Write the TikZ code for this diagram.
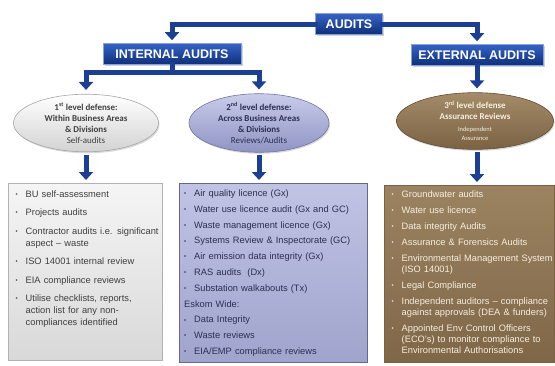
\documentclass[tikz,border=0pt]{standalone}
\usepackage{fontspec}
\setmainfont{Liberation Sans}
\newfontfamily\calfont{Carlito}
\usepackage{tikz}
\usetikzlibrary{positioning,shadows,arrows.meta,shapes.geometric}

\definecolor{audblue}{HTML}{1B3F92}
\definecolor{headtop}{HTML}{3563C4}
\definecolor{headbot}{HTML}{0E2E7A}
\definecolor{lavtop}{HTML}{C9CCEA}
\definecolor{lavbot}{HTML}{8F94C4}
\definecolor{browntop}{HTML}{A48C6A}
\definecolor{brownbot}{HTML}{7A6243}
\definecolor{graytext}{HTML}{3F3F3F}
\definecolor{lavtext}{HTML}{2C2F52}
\definecolor{browntext}{HTML}{F6EEDF}

% one bullet line of a list box
\newcommand{\bitem}[1]{\par\hangindent=10pt\hangafter=1\noindent
  \makebox[10pt][l]{\raisebox{0.8pt}{\fontsize{6}{6}\selectfont\textbullet}}#1\par}

\begin{document}
\begin{tikzpicture}[x=1pt,y=-1pt,
    head/.style={draw=headtop!60!white, line width=0.6pt, top color=headtop, bottom color=headbot,
      text=white, font=\fontsize{12.5}{14}\selectfont\bfseries, minimum height=21pt, inner sep=0pt,
      drop shadow={opacity=0.35,shadow xshift=1.5pt,shadow yshift=-1.5pt}},
    conn/.style={draw=audblue, line width=5pt, line cap=rect, -{Triangle[width=14pt,length=8pt]}},
    ell/.style={ellipse, draw=#1, line width=0.6pt, inner sep=0pt, align=center,
      font=\calfont\fontsize{9}{11}\selectfont\bfseries,
      drop shadow={opacity=0.3,shadow xshift=1pt,shadow yshift=-1.5pt}},
    listbox/.style={draw=#1, line width=0.6pt, anchor=north west, inner sep=0pt,
      drop shadow={opacity=0.3,shadow xshift=1pt,shadow yshift=-1pt}},
    listtext/.style={anchor=north west, inner sep=0pt, text width=#1, align=left}]
  \useasboundingbox (0,0) rectangle (555,365);

  % headings
  \node[head, minimum width=67pt] (audits) at (349,24) {AUDITS};
  \node[head, minimum width=138pt] (internal) at (172,54) {INTERNAL AUDITS};
  \node[head, minimum width=132pt] (external) at (477,55) {EXTERNAL AUDITS};

  % level ellipses
  \node[ell=gray!70, top color=white, bottom color=gray!35, text=graytext,
    minimum width=145pt, minimum height=57pt] (e1) at (86,123)
    {1\textsuperscript{st} level defense:\\Within Business Areas\\\& Divisions\\{\mdseries Self-audits}};
  \node[ell=lavbot!80!black, top color=lavtop, bottom color=lavbot, text=lavtext,
    minimum width=140pt, minimum height=58pt] (e2) at (259,123)
    {2\textsuperscript{nd} level defense:\\Across Business Areas\\\& Divisions\\{\mdseries Reviews/Audits}};
  \node[ell=brownbot!80!black, top color=browntop, bottom color=brownbot, text=browntext,
    minimum width=157pt, minimum height=56pt] (e3) at (475,121)
    {3\textsuperscript{rd} level defense\\Assurance Reviews\\[1pt]{\fontsize{6.5}{8}\selectfont\mdseries Independent}\\[-2pt]{\fontsize{6.5}{8}\selectfont\mdseries Assurance}};

  % list boxes
  \node[listbox=gray!60, top color=gray!8, bottom color=gray!30, minimum width=154pt, minimum height=177pt] (b1) at (8,183) {};
  \node[listbox=lavbot!70!black, top color=lavtop!85!lavbot, bottom color=lavbot!85!white, minimum width=188pt, minimum height=179pt] (b2) at (179,183) {};
  \node[listbox=brownbot, top color=browntop!80!brownbot, bottom color=brownbot!90!browntop, minimum width=170pt, minimum height=177pt] (b3) at (384,185) {};

  \node[listtext=150pt, text=graytext, font=\fontsize{9.3}{12}\selectfont\setlength{\parskip}{6.5pt}]
    (t1) at ([xshift=7.5pt,yshift=4.5pt]b1.north west) {%
    \bitem{BU self-assessment}
    \bitem{Projects audits}
    \bitem{Contractor audits i.e. significant\newline aspect -- waste}
    \bitem{ISO 14001 internal review}
    \bitem{EIA compliance reviews}
    \bitem{Utilise checklists, reports,\newline action list for any non-\newline compliances identified}};
  \node[listtext=185pt, text=lavtext, font=\fontsize{9.3}{12}\selectfont\setlength{\parskip}{3.8pt}]
    (t2) at ([xshift=5pt,yshift=2.5pt]b2.north west) {%
    \bitem{Air quality licence (Gx)}
    \bitem{Water use licence audit (Gx and GC)}
    \bitem{Waste management licence (Gx)}
    \bitem{Systems Review \& Inspectorate (GC)}
    \bitem{Air emission data integrity (Gx)}
    \bitem{RAS audits\ \ (Dx)}
    \bitem{Substation walkabouts (Tx)}
    \par\noindent Eskom Wide:\par
    \bitem{Data Integrity}
    \bitem{Waste reviews}
    \bitem{EIA/EMP compliance reviews}};
  \node[listtext=168pt, text=browntext, font=\fontsize{9.3}{11}\selectfont\setlength{\parskip}{5pt}]
    (t3) at ([xshift=7.5pt,yshift=4pt]b3.north west) {%
    \bitem{Groundwater audits}
    \bitem{Water use licence}
    \bitem{Data integrity Audits}
    \bitem{Assurance \& Forensics Audits}
    \bitem{Environmental Management System\newline (ISO 14001)}
    \bitem{Legal Compliance}
    \bitem{Independent auditors -- compliance\newline against approvals (DEA \& funders)}
    \bitem{Appointed Env Control Officers\newline (ECO's) to monitor compliance to\newline Environmental Authorisations}};

  % connectors
  \draw[conn, shorten >=3pt] (audits.west) -| (internal.north);
  \draw[conn, shorten >=3pt] (audits.east) -| (external.north);
  \coordinate (split) at ([yshift=-8pt]internal.south);
  \draw[conn, shorten >=4pt] (internal.south) -- (split) -| (e1.north);
  \draw[conn, shorten >=4pt] (split) -| (e2.north);
  \draw[conn, shorten >=4pt] (external.south) -- (external.south |- e3.north);
  \draw[conn, shorten <=5pt, shorten >=3pt] (e1.south) -- (e1.south |- b1.north);
  \draw[conn, shorten <=5pt, shorten >=3pt] (e2.south) -- (e2.south |- b2.north);
  \draw[conn, shorten <=5pt, shorten >=3pt] (external.south |- e3.south) -- (external.south |- b3.north);
\end{tikzpicture}
\end{document}
